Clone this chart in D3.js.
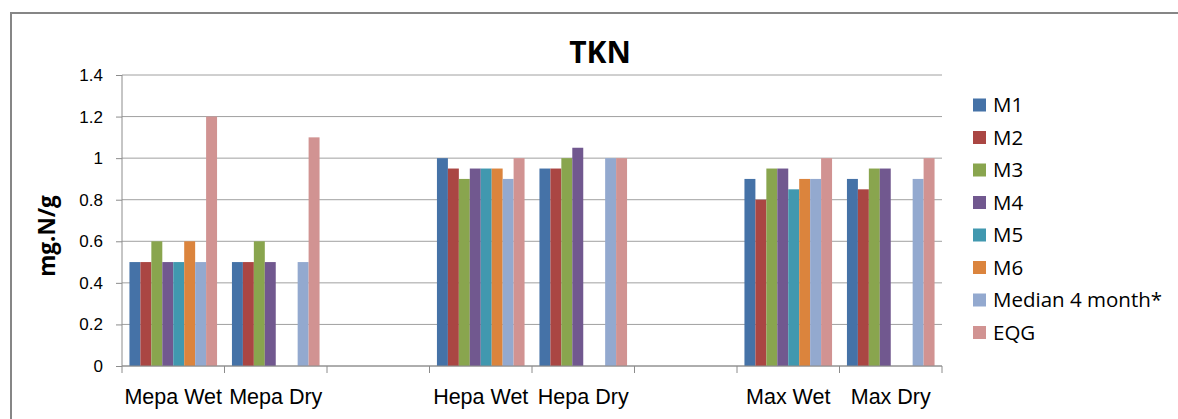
<!DOCTYPE html>
<html>
<head>
<meta charset="utf-8">
<script src="https://cdn.jsdelivr.net/npm/d3@7"></script>
<style>
  body { margin: 0; background: #fff; }
  svg { display: block; font-family: "Open Sans", "Liberation Sans", sans-serif; }
  .axis path { display: none; }
  .axis .tick line { stroke: #8c8c8c; }
  .axis text { fill: #000; }
</style>
</head>
<body>
<div id="chart"></div>
<script>
// chart data
const categories = ["Mepa Wet", "Mepa Dry", "", "Hepa Wet", "Hepa Dry", "", "Max Wet", "Max Dry"];
const seriesNames = ["M1", "M2", "M3", "M4", "M5", "M6", "Median 4 month*", "EQG"];
const M1 = [0.5, 0.5, null, 1.0, 0.95, null, 0.9, 0.9];
const M2 = [0.5, 0.5, null, 0.95, 0.95, null, 0.8, 0.85];
const M3 = [0.6, 0.6, null, 0.9, 1.0, null, 0.95, 0.95];
const M4 = [0.5, 0.5, null, 0.95, 1.05, null, 0.95, 0.95];
const M5 = [0.5, null, null, 0.95, null, null, 0.85, null];
const M6 = [0.6, null, null, 0.95, null, null, 0.9, null];
const median4 = [0.5, 0.5, null, 0.9, 1.0, null, 0.9, 0.9];
const EQG = [1.2, 1.1, null, 1.0, 1.0, null, 1.0, 1.0];
const yTicks = [0, 0.2, 0.4, 0.6, 0.8, 1, 1.2, 1.4];
const colors = ["#4572A7", "#AA4643", "#89A54E", "#71588F", "#4198AF", "#DB843D", "#93A9CF", "#D19392"];

const seriesValues = [M1, M2, M3, M4, M5, M6, median4, EQG];

const width = 1178, height = 419;
const svg = d3.select('#chart').append('svg').attr('width', width).attr('height', height);

svg.append('rect').attr('width', width).attr('height', height).attr('fill', '#fff');
// outer chart border (runs off the right and bottom edges)
svg.append('rect').attr('x', 11).attr('y', 13).attr('width', 1200).attr('height', 450)
  .attr('fill', 'none').attr('stroke', '#868686').attr('stroke-width', 2);

const x0 = d3.scaleBand().domain(d3.range(categories.length)).range([122, 942]).padding(0);
const x1 = d3.scaleBand().domain(d3.range(seriesNames.length)).range([0, x0.bandwidth()]).paddingInner(0).paddingOuter(0.68);
const y = d3.scaleLinear().domain([0, 1.4]).range([366, 75]);

// gridlines
svg.append('g').selectAll('line').data(yTicks).enter().append('line')
  .attr('x1', 122).attr('x2', 942)
  .attr('y1', d => y(d)).attr('y2', d => y(d))
  .attr('stroke', '#a0a0a0').attr('stroke-width', 1);

// y axis
const yAxis = svg.append('g').attr('class', 'axis').attr('transform', 'translate(122,0)')
  .call(d3.axisLeft(y).tickValues(yTicks).tickSize(6).tickPadding(13).tickFormat(d => String(+d.toFixed(1))));
yAxis.selectAll('text').attr('font-size', 17);
svg.append('line').attr('x1', 122).attr('x2', 122).attr('y1', y(1.4)).attr('y2', y(0)).attr('stroke', '#8c8c8c');

// bars
const groups = svg.append('g').selectAll('g').data(categories).enter().append('g')
  .attr('transform', (d, i) => 'translate(' + x0(i) + ',0)');
groups.selectAll('rect')
  .data((d, i) => seriesValues.map((vals, s) => ({ s: s, v: vals[i] })).filter(e => e.v != null))
  .enter().append('rect')
  .attr('x', d => x1(d.s)).attr('width', x1.bandwidth())
  .attr('y', d => y(d.v)).attr('height', d => y(0) - y(d.v))
  .attr('fill', d => colors[d.s]);

// x axis: baseline, boundary ticks, labels
svg.append('line').attr('x1', 122).attr('x2', 942).attr('y1', y(0)).attr('y2', y(0)).attr('stroke', '#8c8c8c');
const bounds = d3.range(categories.length).map(i => x0(i)).concat([x0.range()[1]]);
svg.append('g').selectAll('line').data(bounds).enter().append('line')
  .attr('x1', d => d).attr('x2', d => d).attr('y1', y(0)).attr('y2', y(0) + 7)
  .attr('stroke', '#8c8c8c');
const xAxis = svg.append('g').attr('class', 'axis').attr('transform', 'translate(0,' + y(0) + ')')
  .call(d3.axisBottom(x0).tickSize(0).tickPadding(23).tickFormat(i => categories[i]));
xAxis.selectAll('text').attr('font-size', 21.5);

// title
svg.append('text').attr('x', 600).attr('y', 63).attr('text-anchor', 'middle')
  .attr('font-size', 30).attr('font-weight', 'bold').text('TKN');

// y label
svg.append('text').attr('transform', 'translate(55,236) rotate(-90)').attr('text-anchor', 'middle')
  .attr('font-size', 22.5).attr('font-weight', 'bold').text('mg.N/g');

// legend
const legend = svg.append('g').selectAll('g').data(seriesNames).enter().append('g')
  .attr('transform', (d, i) => 'translate(973,' + (105 + i * 32.5) + ')');
legend.append('rect').attr('x', 0).attr('y', -6.5).attr('width', 13).attr('height', 13)
  .attr('fill', (d, i) => colors[i]);
legend.append('text').attr('x', 20).attr('dy', '0.35em').attr('font-size', 20.5).text(d => d);
</script>
</body>
</html>
